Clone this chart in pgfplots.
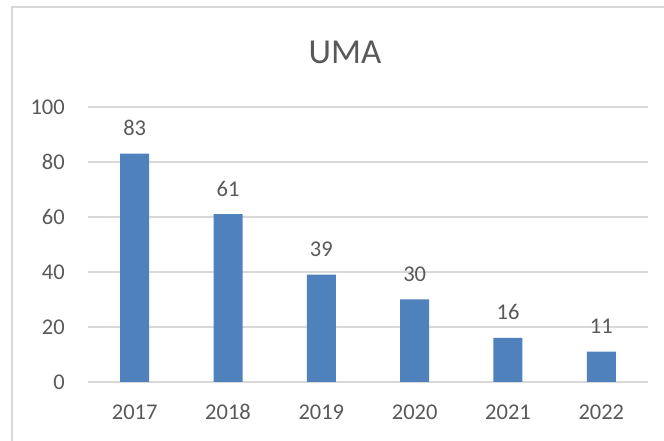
\documentclass[border=0pt]{standalone}
\usepackage{fontspec}
\setmainfont{Carlito}
\usepackage{pgfplots}
\pgfplotsset{compat=1.18}
\definecolor{barblue}{HTML}{4F81BD}
\definecolor{txtgray}{HTML}{595959}
\definecolor{gridgray}{HTML}{D9D9D9}
\begin{document}
\begin{tikzpicture}[x=1pt,y=1pt]
\path[use as bounding box] (0,0) rectangle (664,441);
\draw[gridgray, line width=1.5pt] (12,0) -- (12,434) -- (664,434);
\begin{axis}[
    at={(88pt,59pt)}, anchor=south west,
    scale only axis, width=560pt, height=275pt,
    xmin=-0.5, xmax=5.5, ymin=0, ymax=100,
    ybar, bar width=29pt,
    axis line style={draw=none},
    xtick={0,1,2,3,4,5},
    xticklabels={2017,2018,2019,2020,2021,2022},
    ytick={0,20,40,60,80,100},
    major tick length=0pt,
    ymajorgrids, grid style={gridgray, line width=1.2pt},
    tick label style={font=\fontsize{22.5}{27}\selectfont, text=txtgray},
    /pgf/number format/assume math mode=true,
    yticklabel style={anchor=east, inner sep=0pt, xshift=-23pt},
    xticklabel style={anchor=base, inner sep=0pt, yshift=-38pt},
    nodes near coords,
    every node near coord/.append style={font=\fontsize{22.5}{27}\selectfont, text=txtgray, anchor=base, inner sep=0pt, yshift=18pt},
]
\addplot[fill=barblue, draw=none] coordinates {
    (0,83) (1,61) (2,39) (3,30) (4,16) (5,11)};
\end{axis}
\node[text=txtgray, font=\fontsize{35}{42}\selectfont] at (345,389) {UMA};
\end{tikzpicture}
\end{document}
